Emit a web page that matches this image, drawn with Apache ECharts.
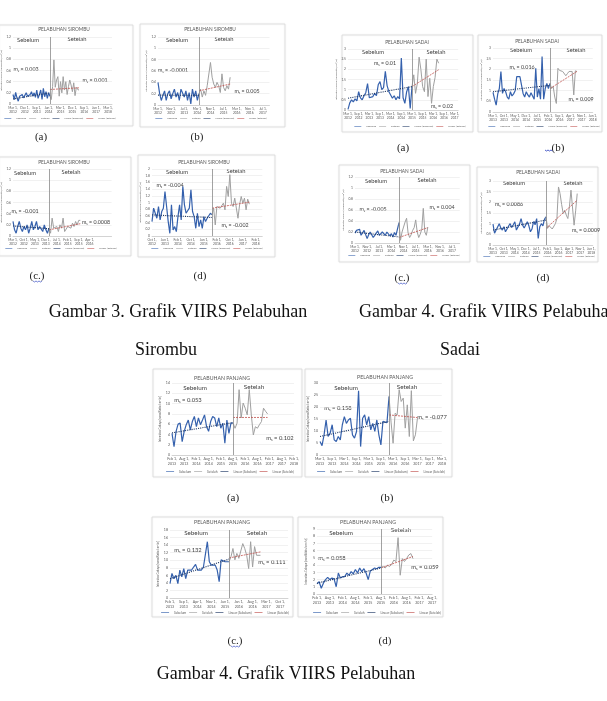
<!DOCTYPE html>
<html><head><meta charset="utf-8">
<script src="https://cdn.jsdelivr.net/npm/echarts/dist/echarts.min.js"></script>
<style>html,body{margin:0;padding:0;background:#fff}#c{width:607px;height:701px}</style>
</head><body><div id="c"></div>
<script>
// ---------------- DATA ----------------
const legendNames = ["Sebelum", "Setelah", "Linear (Sebelum)", "Linear (Setelah)"];
const portTitles = ["PELABUHAN SIROMBU", "PELABUHAN SADAI", "PELABUHAN PANJANG"];
const panelCaptions = ["(a)", "(b)", "(c.)", "(d)"];
const figureCaptions = ["Gambar 3. Grafik VIIRS Pelabuhan", "Sirombu", "Gambar 4. Grafik VIIRS Pelabuhan", "Sadai", "Gambar 4. Grafik VIIRS Pelabuhan"];
const yAxisName = "Intensitas Cahaya (nanoWatts/cm²/sr)";

// Sirombu (a)
const sirA_xLabels = ["Mar 1, 2012","Dec 1, 2012","Sep 1, 2013","Jun 1, 2014","Mar 1, 2015","Dec 1, 2015","Sep 1, 2016","Jun 1, 2017","Mar 1, 2018"];
const sirA_sebelum = [0.17,0.08,0.21,0.11,0.05,0.14,0.11,0.17,0.11,0.14,0.2,0.14,0.11,0.17,0.22,0.14,0.2,0.12,0.25,0.1,0.17,0.25,0.08,0.28,0.13,0.22,0.1,0.2,0.14];
const sirA_setelah = [0.14,0.08,0.31,0.79,0.3,0.43,0.49,0.14,0.4,0.2,0.49,0.25,0.4,0.17,0.31,0.43,0.34,0.22,0.38,0.15,0.3,0.26,0.25];
const sirA_linSebelum = [0.09, 0.2];
const sirA_linSetelah = [0.26, 0.29];
const sirA_slopes = ["0.003", "0.001"];

// Sirombu (b)
const sirB_xLabels = ["Mar 1, 2012","Nov 1, 2012","Jul 1, 2013","Mar 1, 2014","Nov 1, 2014","Jul 1, 2015","Mar 1, 2016","Nov 1, 2016","Jul 1, 2017"];
const sirB_sebelum = [0.4,0.2,0.08,0.17,0.25,0.08,0.2,0.25,0.11,0.2,0.28,0.14,0.22,0.08,0.28,0.31,0.14,0.25,0.08,0.22,0.02,0.28,0.14,0.25,0.08,0.2];
const sirB_setelah = [0.2,0.28,0.14,0.25,0.17,0.34,0.31,0.75,0.49,0.37,0.31,0.4,0.34,0.22,0.55,0.31,0.25,0.34,0.28,0.49];
const sirB_linSebelum = [0.175, 0.17];
const sirB_linSetelah = [0.25, 0.37];
const sirB_slopes = ["-0.0001", "0.005"];

// Sirombu (c)
const sirC_xLabels = ["Mar 1, 2012","Oct 1, 2012","May 1, 2013","Dec 1, 2013","Jul 1, 2014","Feb 1, 2015","Sep 1, 2015","Apr 1, 2016"];
const sirC_sebelum = [0.26,0.11,0.05,0.17,0.26,0.14,0.08,0.17,0.11,0.2,0.05,0.14,0.26,0.11,0.17,0.26,0.11,0.17,0.14,0.08,0.2,0.11,0.05,0.14];
const sirC_setelah = [0.14,0.05,0.32,0.14,0.11,0.17,0.08,0.2,0.14,0.32,0.08,0.05,0.17,0.2,0.14,0.23,0.17,0.26,0.2,0.28,0.28];
const sirC_linSebelum = [0.18, 0.13];
const sirC_linSetelah = [0.11, 0.22];
const sirC_slopes = ["-0.001", "0.0008"];

// Sirombu (d)
const sirD_xLabels = ["Oct 1, 2012","Jun 1, 2013","Feb 1, 2014","Oct 1, 2014","Jun 1, 2015","Feb 1, 2016","Oct 1, 2016","Jun 1, 2017","Feb 1, 2018"];
const sirD_sebelum = [0.43,0.83,0.88,0.53,0.88,0.48,0.73,0.83,1.33,0.88,0.43,0.08,0.93,0.18,0.28,0.13,0.58,0.93,0.48,1.48,0.93,0.68,0.73,0.83,1.38,0.73,0.58,0.23,0.68,0.28,0.48,0.23,0.58,0.43,0.53,0.58,0.68,0.63];
const sirD_setelah = [0.63,0.83,0.33,0.88,0.93,0.83,0.88,0.98,0.78,1.48,1.18,1.83,0.98,0.88,1.13,1.08,0.53,0.93,1.18,0.98,1.13,0.78,1.1,0.95];
const sirD_linSebelum = [0.63, 0.55];
const sirD_linSetelah = [0.83, 1.01];
const sirD_slopes = ["-0.004", "-0.002"];

// Sadai (a)
const sadA_xLabels = ["Mar 1, 2012","Sep 1, 2012","Mar 1, 2013","Sep 1, 2013","Mar 1, 2014","Sep 1, 2014","Mar 1, 2015","Sep 1, 2015","Mar 1, 2016","Sep 1, 2016","Mar 1, 2017"];
const sadA_sebelum = [0.03,0.35,0.5,0.4,0.55,0.45,0.9,0.6,0.5,0.7,0.85,1.3,0.6,0.58,0.66,0.82,0.7,1.24,1.4,1.0,1.1,1.9,1.2,0.9,0.95,0.58,0.7,0.5,0.66,0.55,2.55,0.6,0.33,0.9,1.15,0.08,1.15];
const sadA_setelah = [1.15,1.73,0.82,1.3,2.6,2.0,1.15,0.9,2.5,0.66,1.56,0.33,1.15,1.6,2.5,2.3];
const sadA_linSebelum = [0.58, 1.15];
const sadA_linSetelah = [1.15, 1.98];
const sadA_slopes = ["0.01", "0.02"];

// Sadai (b)
const sadB_xLabels = ["Mar 1, 2013","Oct 1, 2013","May 1, 2014","Dec 1, 2014","Jul 1, 2015","Feb 1, 2016","Sep 1, 2016","Apr 1, 2017","Nov 1, 2017","Jun 1, 2018"];
const sadB_sebelum = [0.92,0.6,0.32,0.85,1.1,1.9,0.87,1.1,0.95,0.7,0.6,0.95,0.75,0.85,1.0,1.66,1.58,1.66,1.6,0.87,0.7,0.95,0.8,0.7,0.9,0.75,0.6,2.05,0.7,1.1,0.6,2.6,0.6,1.1,1.34,1.1,1.34];
const sadB_setelah = [1.34,1.1,1.2,0.7,0.4,2.05,1.95,2.0,1.9,1.85,1.7,1.8,1.9,1.95,1.9,0.8,1.93,1.9];
const sadB_linSebelum = [0.95, 1.25];
const sadB_linSetelah = [1.1, 1.9];
const sadB_slopes = ["0.016", "0.009"];

// Sadai (c)
const sadC_xLabels = ["Mar 1, 2012","Nov 1, 2012","Jul 1, 2013","Mar 1, 2014","Nov 1, 2014","Jul 1, 2015","Mar 1, 2016","Nov 1, 2016","Jul 1, 2017"];
const sadC_sebelum = [0.18,0.23,0.26,0.25,0.14,0.12,0.23,0.2,0.08,0.15,0.2,0.17,0.1,0.14,0.17,0.22,0.14,0.11,0.2,0.17,0.14,0.2,0.23,0.13,0.17,0.11,0.19,0.14,0.12,0.37];
const sadC_setelah = [0.37,0.05,0.2,0.29,0.38,0.45,0.18,0.1,0.15,0.23,0.28,0.42,0.2,0.1,0.16,0.25,0.63,0.2,0.14,0.29];
const sadC_linSebelum = [0.2, 0.11];
const sadC_linSetelah = [0.1, 0.28];
const sadC_slopes = ["-0.005", "0.004"];

// Sadai (d)
const sadD_xLabels = ["Mar 1, 2013","Oct 1, 2013","May 1, 2014","Dec 1, 2014","Jul 1, 2015","Feb 1, 2016","Sep 1, 2016","Apr 1, 2017","Nov 1, 2017","Jun 1, 2018"];
const sadD_sebelum = [0.98,0.55,0.7,0.73,1.0,0.8,0.7,0.86,0.62,0.75,0.89,1.0,0.82,0.95,1.09,0.7,0.85,0.98,1.24,0.93,0.8,0.78,1.09,0.9,0.62,0.75,1.1,0.95,1.24,0.31,0.86,1.0,0.9,1.2,1.32];
const sadD_setelah = [1.32,0.78,0.9,0.93,0.75,0.7,1.0,1.24,2.72,2.41,1.9,1.48,1.63,1.4,1.24,1.8,2.57,2.49,0.93,1.6,2.41];
const sadD_linSebelum = [0.7, 1.17];
const sadD_linSetelah = [0.78, 2.1];
const sadD_slopes = ["0.0086", "0.0009"];

// Panjang (a)
const panA_xLabels = ["Feb 1, 2013","Aug 1, 2013","Feb 1, 2014","Aug 1, 2014","Feb 1, 2015","Aug 1, 2015","Feb 1, 2016","Aug 1, 2016","Feb 1, 2017","Aug 1, 2017","Feb 1, 2018"];
const panA_sebelum = [4.2,1.6,4.6,6.0,6.2,2.6,4.6,5.9,6.8,4.9,6.5,7.5,5.5,7.2,5.9,6.8,7.8,5.5,4.6,6.5,7.5,7.2,5.5,7.2,5.2,6.2,2.3,6.8,4.2,6.2,6.2];
const panA_setelah = [6.2,5.2,6.2,12.7,7.2,10.1,9.1,7.8,12.7,7.8,3.9,5.5,5.2,5.9,6.5,9.1,8.5,8.0];
const panA_linSebelum = [4.3, 6.3];
const panA_linSetelah = [7.3, 7.3];
const panA_slopes = ["0.053", "0.102"];

// Panjang (b)
const panB_xLabels = ["Mar 1, 2013","Sep 1, 2013","Mar 1, 2014","Sep 1, 2014","Mar 1, 2015","Sep 1, 2015","Mar 1, 2016","Sep 1, 2016","Mar 1, 2017","Sep 1, 2017","Mar 1, 2018"];
const panB_sebelum = [5.6,3.9,8.4,14.6,7.7,9.1,12.6,6.3,5.6,7.7,6.3,12.6,16.0,13.2,14.6,15.3,8.4,7.0,9.8,26.8,3.5,15.3,16.7,12.6,16.0,10.5,13.2,9.8,14.6,8.4,4.2,14.0,13.7,13.5,24.4];
const panB_setelah = [24.4,13.7,4.9,17.4,16.7,27.2,22.3,23.7,11.2,20.9,7.7,26.8,5.9,8.4,15.3];
const panB_linSebelum = [7.7, 14.0];
const panB_linSetelah = [16.7, 15.6];
const panB_slopes = ["0.158", "-0.077"];

// Panjang (c)
const panC_xLabels = ["Feb 1, 2013","Sep 1, 2013","Apr 1, 2014","Nov 1, 2014","Jun 1, 2015","Jan 1, 2016","Aug 1, 2016","Mar 1, 2017","Oct 1, 2017"];
const panC_sebelum = [3.8,6.5,5.1,6.0,3.8,7.4,5.6,7.8,5.1,7.4,7.0,7.4,8.2,8.9,7.4,7.8,7.4,8.2,8.7,14.9,9.6,8.7,8.9,8.7,7.4,4.3,10.1,10.6,9.6,10.1,9.6];
const panC_setelah = [9.6,10.9,13.1,10.1,11.8,10.5,10.9,14.4,13.1,11.3,7.8,14.9,8.2,13.6,11.3,11.8,11.3];
const panC_linSebelum = [5.1, 10.3];
const panC_linSetelah = [10.6, 12.2];
const panC_slopes = ["0.132", "0.111"];

// Panjang (d)
const panD_xLabels = ["Feb 1, 2013","Aug 1, 2013","Feb 1, 2014","Aug 1, 2014","Feb 1, 2015","Aug 1, 2015","Feb 1, 2016","Aug 1, 2016","Feb 1, 2017","Aug 1, 2017"];
const panD_sebelum = [1.4,1.7,0.8,1.5,2.0,2.3,2.0,2.2,2.1,1.0,2.9,2.2,2.4,2.4,2.9,2.6,3.1,2.8,3.4,2.9,3.6,3.1,3.5,2.9,2.0,3.2,3.4,3.6,3.5,3.7,3.7];
const panD_setelah = [3.7,3.8,3.6,4.0,3.8,4.1,4.7,4.5,7.8,2.6,4.9,4.5,4.9,5.4,5.6,4.9];
const panD_linSebelum = [1.5, 3.6];
const panD_linSetelah = [3.6, 5.2];
const panD_slopes = ["0.058", "0.059"];

// ---------------- LAYOUT (positions / sizes / scales) ----------------
const charts = [
 {t:0, cap:0, xl:sirA_xLabels, seb:sirA_sebelum, set:sirA_setelah, lb:sirA_linSebelum, la:sirA_linSetelah, ms:sirA_slopes,
  panel:[-1,25,134,101], grid:[13,37,99,67], xMax:75, xStep:9, yMax:1.2, yStep:0.2, lg:[60,119], title:[64,29], tSeb:[28,40], tSet:[77,39], m1:[26,69], m2:[95,80], capPos:[41,137]},
 {t:0, cap:1, xl:sirB_xLabels, seb:sirB_sebelum, set:sirB_setelah, lb:sirB_linSebelum, la:sirB_linSetelah, ms:sirB_slopes,
  panel:[140,24,145,103], grid:[158,37,111.5,68], xMax:68, xStep:8, yMax:1.2, yStep:0.2, lg:[211,119], title:[210,29], tSeb:[177,40], tSet:[224,39], m1:[173,70], m2:[247,91], capPos:[197,137]},
 {t:0, cap:2, xl:sirC_xLabels, seb:sirC_sebelum, set:sirC_setelah, lb:sirC_linSebelum, la:sirC_linSetelah, ms:sirC_slopes,
  panel:[-1,157,132,99], grid:[13,169,98.6,67], xMax:63, xStep:7, yMax:1.2, yStep:0.2, lg:[61,249], title:[64,162], tSeb:[25,173], tSet:[71,172], m1:[25,211], m2:[96,222], capPos:[37,276], squiggle:true},
 {t:0, cap:3, xl:sirD_xLabels, seb:sirD_sebelum, set:sirD_setelah, lb:sirD_linSebelum, la:sirD_linSetelah, ms:sirD_slopes,
  panel:[138,155,137,102], grid:[152,169,110.3,67], xMax:68, xStep:8, yMax:2, yStep:0.2, lg:[207,249], title:[204,162], tSeb:[177,172], tSet:[236,171], m1:[170,185], m2:[235,225], capPos:[200,276]},
 {t:1, cap:0, xl:sadA_xLabels, seb:sadA_sebelum, set:sadA_setelah, lb:sadA_linSebelum, la:sadA_linSetelah, ms:sadA_slopes,
  panel:[342,35,131,97], grid:[348,49,110.2,61], xMax:62, xStep:6, yMax:3, yStep:0.5, lg:[410,127], title:[407,42], tSeb:[373,52], tSet:[436,52], m1:[385,63], m2:[442,106], capPos:[403,148]},
 {t:1, cap:1, xl:sadB_xLabels, seb:sadB_sebelum, set:sadB_setelah, lb:sadB_linSebelum, la:sadB_linSetelah, ms:sadB_slopes,
  panel:[478,35,124,97], grid:[493,48,99.75,64], xMax:63, xStep:7, yMax:3, yStep:0.5, lg:[544,127], title:[537,41], tSeb:[521,50], tSet:[576,50], m1:[522,67], m2:[581,99], capPos:[558,148], preSquiggle:true},
 {t:1, cap:2, xl:sadC_xLabels, seb:sadC_sebelum, set:sadC_setelah, lb:sadC_linSebelum, la:sadC_linSetelah, ms:sadC_slopes,
  panel:[339,165,131,97], grid:[355,177,104.7,66], xMax:69, xStep:8, yMax:1.2, yStep:0.2, lg:[404,256], title:[402,171], tSeb:[376,181], tSet:[427,180], m1:[373,209], m2:[442,207], capPos:[402,278], squiggle:true},
 {t:1, cap:3, xl:sadD_xLabels, seb:sadD_sebelum, set:sadD_setelah, lb:sadD_linSebelum, la:sadD_linSetelah, ms:sadD_slopes,
  panel:[477,167,121,95], grid:[493,181,99.8,64], xMax:64, xStep:7, yMax:3, yStep:0.5, lg:[539,257], title:[538,172], tSeb:[514,183], tSet:[573,183], m1:[509,204], m2:[586,230], capPos:[543,278]},
 {t:2, cap:0, xl:panA_xLabels, seb:panA_sebelum, set:panA_setelah, lb:panA_linSebelum, la:panA_linSetelah, ms:panA_slopes,
  panel:[153,369,149,108], grid:[172,383,122,72], xMax:60, xStep:6, yMax:14, yStep:2, lg:[230,472], title:[222,378], tSeb:[195,388], tSet:[254,387], m1:[188,400], m2:[280,438], capPos:[233,498], big:true},
 {t:2, cap:1, xl:panB_xLabels, seb:panB_sebelum, set:panB_setelah, lb:panB_linSebelum, la:panB_linSetelah, ms:panB_slopes,
  panel:[305,369,147,108], grid:[320,383,121.8,72], xMax:60, xStep:6, yMax:30, yStep:5, lg:[381,472], title:[385,377], tSeb:[346,388], tSet:[407,387], m1:[338,408], m2:[432,417], capPos:[387,498], big:true},
 {t:2, cap:2, xl:panC_xLabels, seb:panC_sebelum, set:panC_setelah, lb:panC_linSebelum, la:panC_linSetelah, ms:panC_slopes,
  panel:[152,517,141,100], grid:[170,530,118,68], xMax:60, xStep:7, yMax:18, yStep:2, lg:[225,613], title:[222,522], tSeb:[196,533], tSet:[257,533], m1:[188,550], m2:[272,562], capPos:[235,641], big:true, squiggle:true},
 {t:2, cap:3, xl:panD_xLabels, seb:panD_sebelum, set:panD_setelah, lb:panD_linSebelum, la:panD_linSetelah, ms:panD_slopes,
  panel:[298,517,145,100], grid:[317,529,115.2,65], xMax:54, xStep:6, yMax:9, yStep:1, lg:[377,613], title:[368,522], tSeb:[341,533], tSet:[401,530], m1:[332,558], m2:[425,567], capPos:[385,641], big:true}
];

const bigCaptionLayout = [
  {x:178, y:312, align:'center'}, {x:166, y:350, align:'center'},
  {x:359, y:312, align:'left'},   {x:460, y:350, align:'center'},
  {x:286, y:674, align:'center'}
];

// ---------------- BUILD ----------------
const FONT = 'Lato, "Open Sans", sans-serif';
const SERIF = '"Liberation Serif", "Times New Roman", serif';
const C_BLUE = '#3561ad', C_GREY = '#a0a0a0', C_TB = '#1f3864', C_TA = '#c0504d', C_TXT = '#404040', C_LBL = '#595959';

const mctx = document.createElement('canvas').getContext('2d');
function textW(s, fs) { mctx.font = fs + 'px Lato'; return mctx.measureText(s).width; }

const option = {animation:false, backgroundColor:'#fff', grid:[], xAxis:[], yAxis:[], series:[], legend:[], graphic:[]};
const G = option.graphic;

charts.forEach((c, i) => {
  const tickFs = c.big ? 3.6 : 3.3;
  const lgFs = c.big ? 3.2 : 2.6;
  const txtFs = c.big ? 6.3 : 5.8;
  const msFs = c.big ? 5.8 : 5.3;
  const nb = c.seb.length, ng = c.set.length;

  // panel frame
  G.push({type:'rect', silent:true, shape:{x:c.panel[0], y:c.panel[1], width:c.panel[2], height:c.panel[3]},
    style:{fill:'none', stroke:'#d6d6d6', lineWidth:0.7, shadowBlur:2, shadowColor:'rgba(0,0,0,0.10)'}});

  option.grid.push({left:c.grid[0], top:c.grid[1], width:c.grid[2], height:c.grid[3], containLabel:false, outerBoundsMode:'none'});
  const xl = c.xl, k = c.xStep;
  option.xAxis.push({type:'value', gridIndex:i, min:0, max:c.xMax, interval:k,
    axisLine:{show:true, lineStyle:{color:'#bfbfbf', width:0.6}}, axisTick:{show:false}, splitLine:{show:false},
    axisLabel:{fontSize:tickFs, lineHeight:tickFs*1.25, color:C_LBL, fontFamily:FONT, margin:2,
      formatter: v => { const q = v / k; if (Math.abs(q - Math.round(q)) > 1e-6) return ''; const s = xl[Math.round(q)]; return s ? s.replace(', ', ',\n') : ''; }}});
  option.yAxis.push({type:'value', gridIndex:i, min:0, max:c.yMax, interval:c.yStep,
    axisLine:{show:false}, axisTick:{show:false},
    splitLine:{lineStyle:{color:'#e2e2e2', width:0.5}},
    axisLabel:{fontSize:tickFs, color:C_LBL, fontFamily:FONT, margin:2},
    name:yAxisName, nameLocation:'middle', nameRotate:90, nameGap:c.big ? 9 : 7.5,
    nameTextStyle:{fontSize:c.big ? 2.8 : 2.5, color:C_LBL, fontFamily:FONT}});

  const base = {type:'line', xAxisIndex:i, yAxisIndex:i, symbol:'none', showSymbol:false, silent:true};
  option.series.push(Object.assign({}, base, {name:legendNames[0], data:c.seb.map((v,j)=>[j,v]),
    lineStyle:{color:C_BLUE, width:1.2}, itemStyle:{color:C_BLUE}, z:3,
    markLine:{silent:true, symbol:['none','none'], label:{show:false}, animation:false,
      lineStyle:{color:'#8a8a8a', width:0.8, type:'solid'}, data:[{xAxis:nb-1}]}}));
  option.series.push(Object.assign({}, base, {name:legendNames[1], data:c.set.map((v,j)=>[nb-1+j,v]),
    lineStyle:{color:C_GREY, width:1.0}, itemStyle:{color:C_GREY}, z:3}));
  option.series.push(Object.assign({}, base, {name:legendNames[2], data:[[0,c.lb[0]],[nb-1,c.lb[1]]],
    lineStyle:{color:C_TB, width:1.1, type:'dotted'}, itemStyle:{color:C_TB}, z:4}));
  option.series.push(Object.assign({}, base, {name:legendNames[3], data:[[nb-1,c.la[0]],[nb-1+ng-1,c.la[1]]],
    lineStyle:{color:C_TA, width:0.8, type:[2,1]}, itemStyle:{color:C_TA}, z:4}));

  // legend centred under the plot
  const iw = c.big ? 8 : 7, gap = 3;
  let lw = 0; legendNames.forEach(n => { lw += iw + 5 + textW(n, lgFs); }); lw += gap * 3;
  option.legend.push({data:legendNames, selectedMode:false, orient:'horizontal', left:c.lg[0] - lw/2, top:c.lg[1] - 2,
    padding:0, itemGap:gap, itemWidth:iw, itemHeight:4, icon:'path://M0,1.6 L10,1.6 L10,2.4 L0,2.4 Z',
    textStyle:{fontSize:lgFs, color:C_LBL, fontFamily:FONT}});

  // texts
  G.push({type:'text', silent:true, x:c.title[0], y:c.title[1], style:{text:portTitles[c.t], align:'center', verticalAlign:'middle', fontSize:c.big?5.2:4.8, fontFamily:FONT, fill:C_LBL}});
  G.push({type:'text', silent:true, x:c.tSeb[0], y:c.tSeb[1], style:{text:'Sebelum', align:'center', verticalAlign:'middle', fontSize:txtFs, fontFamily:FONT, fill:C_TXT}});
  G.push({type:'text', silent:true, x:c.tSet[0], y:c.tSet[1], style:{text:'Setelah', align:'center', verticalAlign:'middle', fontSize:txtFs, fontFamily:FONT, fill:C_TXT}});
  [c.m1, c.m2].forEach((p, j) => {
    G.push({type:'text', silent:true, x:p[0], y:p[1], style:{
      text:'{m|m}{s|s}{m| = ' + c.ms[j] + '}', align:'center', verticalAlign:'middle',
      rich:{m:{fontSize:msFs, fontFamily:FONT, fill:C_TXT, color:C_TXT, lineHeight:msFs*1.3},
            s:{fontSize:msFs*0.62, fontFamily:FONT, fill:C_TXT, color:C_TXT, verticalAlign:'bottom', lineHeight:msFs*1.3}}}});
  });
  // panel caption
  G.push({type:'text', silent:true, x:c.capPos[0], y:c.capPos[1], style:{text:panelCaptions[c.cap], align:'center', verticalAlign:'middle', fontSize:11, fontFamily:SERIF, fill:'#222'}});
  if (c.squiggle) {
    const x0 = c.capPos[0] - 4, y0 = c.capPos[1] + 5;
    G.push({type:'polyline', silent:true, shape:{points:[[x0,y0],[x0+1.5,y0+1],[x0+3,y0],[x0+4.5,y0+1],[x0+6,y0],[x0+7.5,y0+1],[x0+9,y0]]}, style:{stroke:'#3a4fc4', lineWidth:0.7, fill:'none'}});
  }
  if (c.preSquiggle) {
    const x0 = c.capPos[0] - 13, y0 = c.capPos[1] + 2;
    G.push({type:'polyline', silent:true, shape:{points:[[x0,y0],[x0+1.5,y0+1],[x0+3,y0],[x0+4.5,y0+1],[x0+6,y0],[x0+7.5,y0+1]]}, style:{stroke:'#3a4fc4', lineWidth:0.9, fill:'none'}});
  }
});

figureCaptions.forEach((t, i) => {
  const p = bigCaptionLayout[i];
  G.push({type:'text', silent:true, x:p.x, y:p.y, style:{text:t, align:p.align, verticalAlign:'middle', fontSize:18, fontFamily:SERIF, fill:'#111'}});
});

const chart = echarts.init(document.getElementById('c'), null, {renderer:'canvas', devicePixelRatio:1});
chart.setOption(option);
</script>
</body></html>
